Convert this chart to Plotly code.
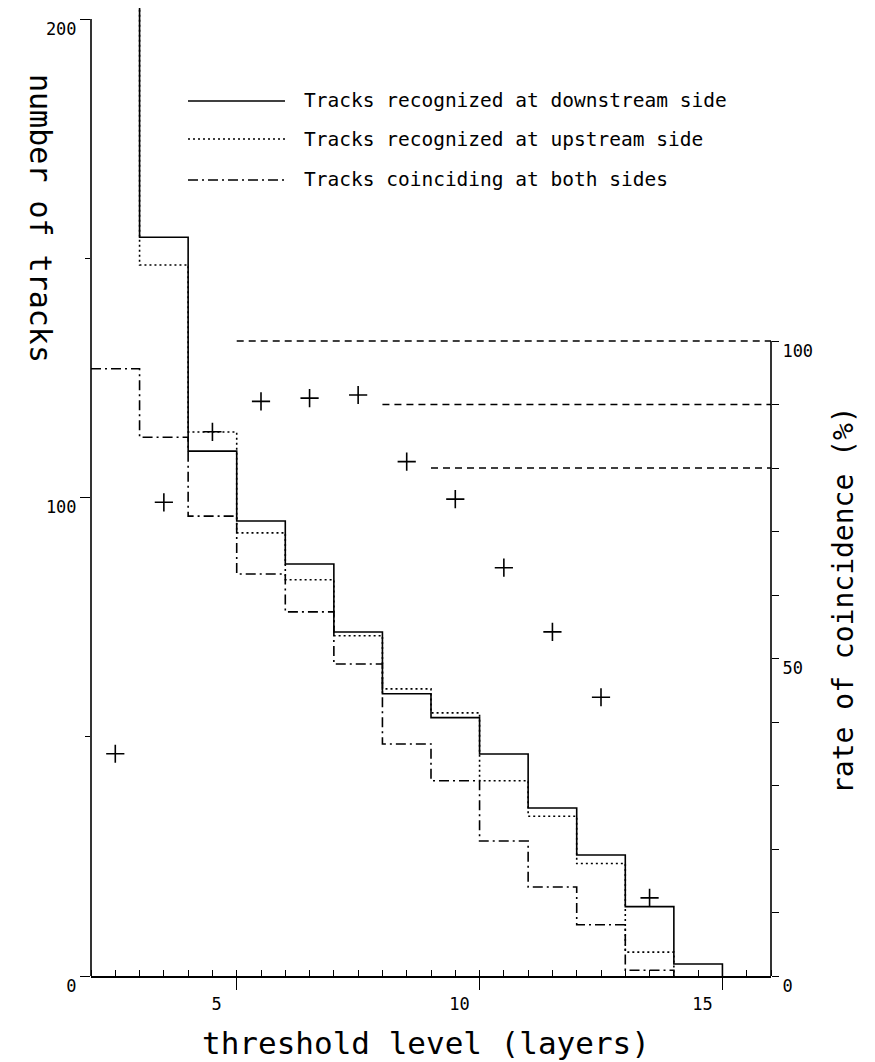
import plotly.graph_objects as go

# ---------------- data ----------------
# threshold bins [k, k+1]
down_edges = [2, 3, 4, 5, 6, 7, 8, 9, 10, 11, 12, 13, 14, 15]
downstream = [362, 154.4, 109.7, 95.1, 86.1, 71.9, 59.0, 54.0, 46.4, 35.1, 25.3, 14.5, 2.5]

up_edges = [2, 3, 4, 5, 6, 7, 8, 9, 10, 11, 12, 13, 14]
upstream = [360, 148.6, 113.7, 92.6, 82.8, 71.1, 60.0, 55.0, 40.8, 33.4, 23.5, 5.0]

co_edges = [2, 3, 4, 5, 6, 7, 8, 9, 10, 11, 12, 13, 14]
coinciding = [126.9, 112.6, 96.1, 84.0, 76.1, 65.2, 48.5, 40.8, 28.2, 18.6, 10.7, 1.2]

rate_x = [2.5, 3.5, 4.5, 5.5, 6.5, 7.5, 8.5, 9.5, 10.5, 11.5, 12.5, 13.5]
rate = [35.0, 74.6, 85.7, 90.5, 91.0, 91.5, 81.0, 75.1, 64.3, 54.2, 43.9, 12.3]

ref_levels = [100, 90, 80]
ref_start = [5, 8, 9]
x_end = 16

x_ticks = [5, 10, 15]
y_ticks = [0, 100, 200]
y_minor = [50, 150]
y2_ticks = [0, 10, 20, 30, 40, 50, 60, 70, 80, 90, 100]
y2_labels = ["0", "", "", "", "", "50", "", "", "", "", "100"]

legend_labels = [
    "Tracks recognized at downstream side",
    "Tracks recognized at upstream side",
    "Tracks coinciding at both sides",
]

FONT = "DejaVu Sans Mono"
W, H = 875, 1062
L, R, T, B = 83, 112, 0, 94
PH = H - T - B            # plot height in px
Y_TOP = 200 * PH / 957.0  # left axis 200 sits 11 px below the top edge
Y2_TOP = PH / 6.35        # right axis: 6.35 px per percent

fig = go.Figure()

fig.add_trace(go.Scatter(x=down_edges, y=downstream + [0], mode="lines", line_shape="hv",
                         line=dict(color="black", width=1.6), name=legend_labels[0]))
fig.add_trace(go.Scatter(x=up_edges, y=upstream + [0], mode="lines", line_shape="hv",
                         line=dict(color="black", width=1.6, dash="2px,3px"), name=legend_labels[1]))
fig.add_trace(go.Scatter(x=co_edges, y=coinciding + [0], mode="lines", line_shape="hv",
                         line=dict(color="black", width=1.6, dash="10px,4px,2px,4px"), name=legend_labels[2]))

fig.add_trace(go.Scatter(x=rate_x, y=rate, mode="markers", yaxis="y2",
                         marker=dict(symbol="cross-thin", size=13, line=dict(color="black", width=1.6)),
                         name="rate"))

for lvl, xs in zip(ref_levels, ref_start):
    fig.add_trace(go.Scatter(x=[xs, x_end], y=[lvl, lvl], mode="lines", yaxis="y2",
                             line=dict(color="black", width=1.3, dash="7px,5px"), showlegend=False))

# left axis line spans 0..200, right axis line spans 0..100 %
fig.add_shape(type="line", xref="paper", yref="y", x0=0, x1=0, y0=0, y1=200,
              line=dict(color="black", width=1.6))
fig.add_shape(type="line", xref="paper", yref="y2", x0=1, x1=1, y0=0, y1=100,
              line=dict(color="black", width=1.6))

def px_to_paper(px, py):
    return (px - L) / (W - L - R), (H - B - py) / PH

leg_rows = [93, 131, 172]
dashes = ["solid", "2px,3px", "10px,4px,2px,4px"]
for row, d, lab in zip(leg_rows, dashes, legend_labels):
    x0, yy = px_to_paper(180, row)
    x1, _ = px_to_paper(277, row)
    xt, _ = px_to_paper(294, row)
    fig.add_shape(type="line", xref="paper", yref="paper", x0=x0, x1=x1, y0=yy, y1=yy,
                  line=dict(color="black", width=1.4, dash=d))
    fig.add_annotation(xref="paper", yref="paper", x=xt, y=yy, text=lab, showarrow=False,
                       xanchor="left", yanchor="middle",
                       font=dict(family=FONT, size=19.5, color="black"))

# axis titles
tx, ty = px_to_paper(418, 1035)
fig.add_annotation(xref="paper", yref="paper", x=tx, y=ty, text="threshold level (layers)",
                   showarrow=False, xanchor="center", yanchor="middle",
                   font=dict(family=FONT, size=31, color="black"))
lx, ly = px_to_paper(33, 210)
fig.add_annotation(xref="paper", yref="paper", x=lx, y=ly, text="number of tracks",
                   showarrow=False, textangle=90, xanchor="center", yanchor="middle",
                   font=dict(family=FONT, size=30, color="black"))
rx, ry = px_to_paper(835, 592)
fig.add_annotation(xref="paper", yref="paper", x=rx, y=ry, text="rate of coincidence (%)",
                   showarrow=False, textangle=-90, xanchor="center", yanchor="middle",
                   font=dict(family=FONT, size=28, color="black"))

tickfont = dict(family=FONT, size=17, color="black")
fig.update_layout(
    width=W, height=H,
    margin=dict(l=L, r=R, t=T, b=B, pad=0),
    paper_bgcolor="white", plot_bgcolor="white",
    showlegend=False,
    xaxis=dict(range=[2, x_end], tickvals=x_ticks, ticks="outside", ticklen=12, tickwidth=1.4,
               tickcolor="black", showline=True, linecolor="black", linewidth=1.6,
               showgrid=False, zeroline=False, tickfont=tickfont,
               ticklabelshift=-20,
               minor=dict(ticks="inside", ticklen=6, tick0=2, dtick=0.5, tickcolor="black",
                          tickwidth=1.2, showgrid=False)),
    yaxis=dict(range=[0, Y_TOP], tickvals=y_ticks, ticks="outside", ticklen=10, tickwidth=1.4,
               tickcolor="black", showline=False, showgrid=False, zeroline=False,
               tickfont=tickfont, ticklabelshift=10,
               minor=dict(ticks="outside", ticklen=5, tickvals=y_minor, tickcolor="black",
                          tickwidth=1.2, showgrid=False)),
    yaxis2=dict(range=[0, Y2_TOP], overlaying="y", side="right", tickvals=y2_ticks,
                ticktext=y2_labels, ticks="outside", ticklen=7, tickwidth=1.4, tickcolor="black",
                showline=False, showgrid=False, zeroline=False, tickfont=tickfont,
                ticklabelshift=10),
)

fig.write_html("out.html")
